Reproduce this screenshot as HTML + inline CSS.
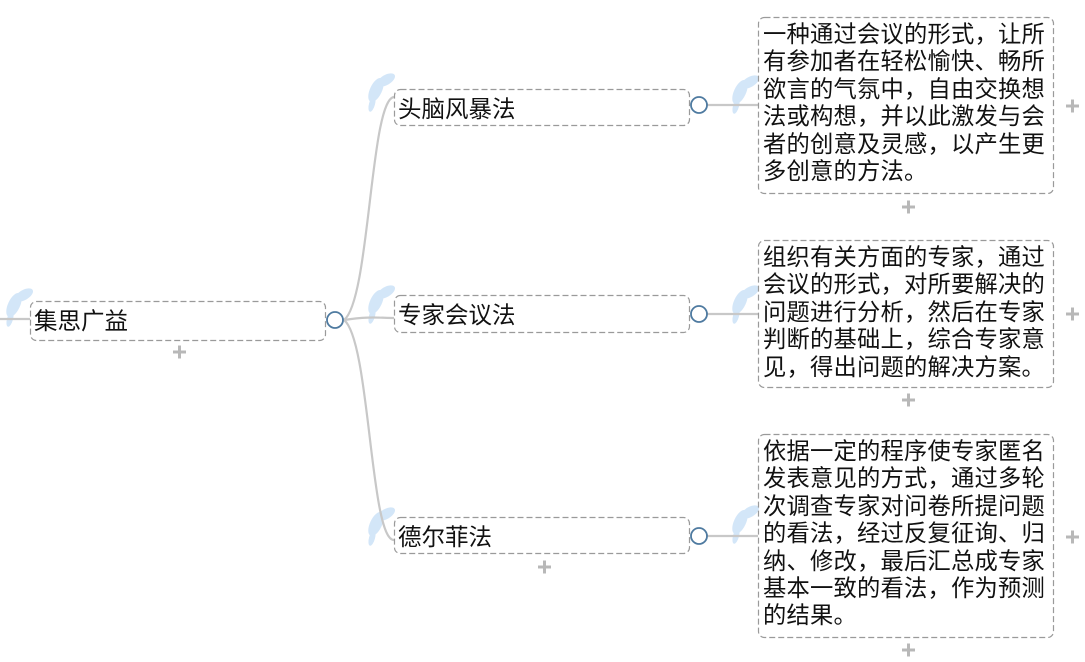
<!DOCTYPE html>
<html><head><meta charset="utf-8"><style>
html,body{margin:0;padding:0;background:#fff;width:1085px;height:662px;overflow:hidden;position:relative}
.b{position:absolute;box-sizing:border-box;font-family:"Liberation Sans","Noto Sans CJK SC",sans-serif;color:#111;font-size:22px}
.n{font-size:23.5px;line-height:36px;padding:2px 0 0 4px}
.d{font-size:23.3px;line-height:27.4px;padding:4px 0 0 5px;white-space:nowrap;letter-spacing:0.2px}
svg{position:absolute;left:0;top:0}
</style></head><body>
<svg width="1085" height="662">
<defs>
<g id="leaf" fill="#d3e6f8">
<ellipse cx="0" cy="0" rx="6" ry="13" transform="rotate(25)"/>
<ellipse cx="10" cy="-10" rx="5" ry="10" transform="rotate(60 10 -10)"/>
<ellipse cx="-4" cy="14" rx="3" ry="8" transform="rotate(15 -4 14)"/>
</g>
</defs>
<use href="#leaf" x="14" y="305"/>
<use href="#leaf" x="376" y="90"/>
<use href="#leaf" x="376" y="302"/>
<use href="#leaf" x="376" y="524"/>
<use href="#leaf" x="740" y="92"/>
<use href="#leaf" x="740" y="302"/>
<use href="#leaf" x="740" y="522"/>
<g stroke="#c8c8c8" stroke-width="2.2" fill="none">
<path d="M0 319 L30 319"/>
<path d="M344 320 C370 300 370 100 394 97"/>
<path d="M344 320 C370 316 380 318 394 318"/>
<path d="M344 320 C370 340 370 540 394 540"/>
<path d="M707 105 L758 105"/>
<path d="M707 314 L758 314"/>
<path d="M707 536 L758 536"/>
</g>
<g fill="none" stroke="#9a9a9a" stroke-width="1.2" stroke-dasharray="6 3">
<rect x="30.5" y="301.5" width="295" height="39" rx="6"/>
<rect x="394.5" y="89.5" width="295" height="36" rx="6"/>
<rect x="394.5" y="295.5" width="295" height="37" rx="6"/>
<rect x="394.5" y="517.5" width="295" height="36" rx="6"/>
<rect x="758.5" y="17.5" width="295" height="176" rx="6"/>
<rect x="758.5" y="240.5" width="295" height="147" rx="6"/>
<rect x="758.5" y="434.5" width="295" height="203" rx="6"/>
</g>
<g stroke="#4e7aa0" stroke-width="1.8" fill="#fff">
<circle cx="335" cy="320" r="8"/>
<circle cx="699" cy="105" r="8"/>
<circle cx="699" cy="314" r="8"/>
<circle cx="699" cy="536" r="8"/>
</g>
<g stroke="#b8b8b8" stroke-width="3">
<path d="M173 352h13M179.5 345.5v13"/>
<path d="M538 567h13M544.5 560.5v13"/>
<path d="M1066 106h13M1072.5 99.5v13"/>
<path d="M902 207h13M908.5 200.5v13"/>
<path d="M1066 314h13M1072.5 307.5v13"/>
<path d="M902 400h13M908.5 393.5v13"/>
<path d="M1066 537h13M1072.5 530.5v13"/>
<path d="M902 650h13M908.5 643.5v13"/>
</g>
</svg>
<div class="b n" style="left:30px;top:301px;width:296px;height:40px">集思广益</div>
<div class="b n" style="left:394px;top:89px;width:296px;height:37px">头脑风暴法</div>
<div class="b n" style="left:394px;top:295px;width:296px;height:38px">专家会议法</div>
<div class="b n" style="left:394px;top:517px;width:296px;height:37px">德尔菲法</div>
<div class="b d" style="left:758px;top:17px;width:296px;height:177px">一种通过会议的形式，让所<br>有参加者在轻松愉快、畅所<br>欲言的气氛中，自由交换想<br>法或构想，并以此激发与会<br>者的创意及灵感，以产生更<br>多创意的方法。</div>
<div class="b d" style="left:758px;top:240px;width:296px;height:148px">组织有关方面的专家，通过<br>会议的形式，对所要解决的<br>问题进行分析，然后在专家<br>判断的基础上，综合专家意<br>见，得出问题的解决方案。</div>
<div class="b d" style="left:758px;top:434px;width:296px;height:204px">依据一定的程序使专家匿名<br>发表意见的方式，通过多轮<br>次调查专家对问卷所提问题<br>的看法，经过反复征询、归<br>纳、修改，最后汇总成专家<br>基本一致的看法，作为预测<br>的结果。</div>
</body></html>
